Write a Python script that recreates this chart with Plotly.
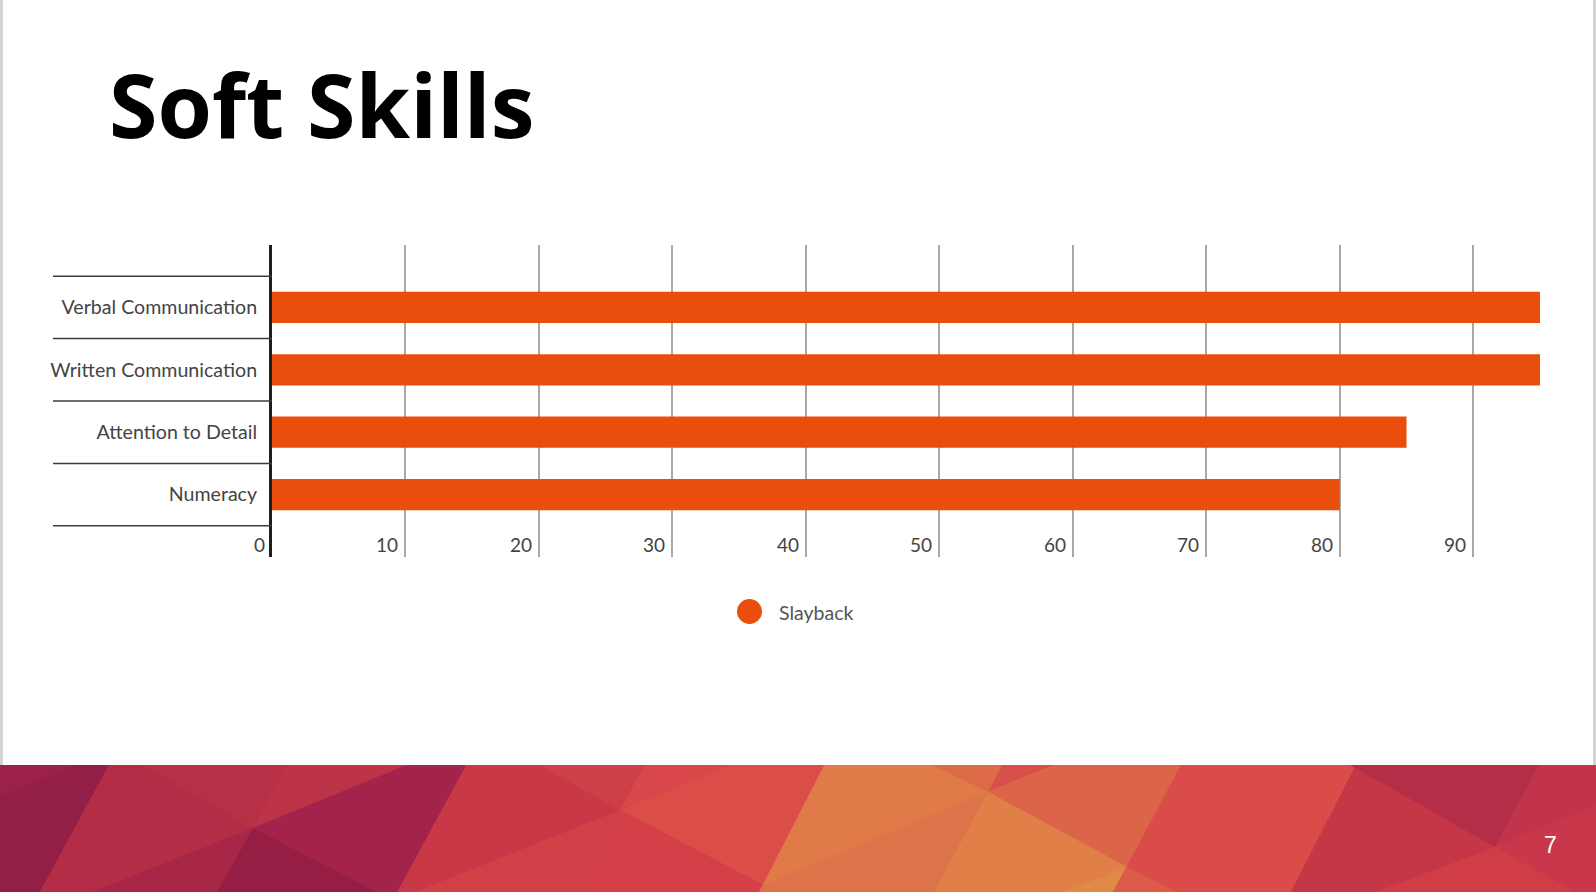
import plotly.graph_objects as go

# chart data
categories = ["Verbal Communication", "Written Communication", "Attention to Detail", "Numeracy"]
scores = [95, 95, 85, 80]
series_name = "Slayback"
x_ticks = [0, 10, 20, 30, 40, 50, 60, 70, 80, 90]
x_tick_labels = ["0", "10", "20", "30", "40", "50", "60", "70", "80", "90"]
title_text = "Soft Skills"
page_number = "7"

W, H = 1596, 892
BAR = "#ea4e0d"
FONT = "Lato"


def fx(px):
    return px / W


def fy(py):
    return 1 - py / H


# decorative footer polygons (pixel coords)
banner = [
    ("#c93847", [(0, 765), (1596, 765), (1596, 892), (0, 892)]),
    ("#931f46", [(0, 765), (109, 765), (40, 892), (0, 892)]),
    ("#9b2148", [(0, 765), (76, 765), (0, 797)]),
    ("#b22d45", [(109, 765), (466, 765), (397, 892), (40, 892)]),
    ("#b73046", [(142, 765), (287, 765), (253, 828)]),
    ("#bd3448", [(287, 765), (407, 765), (253, 828)]),
    ("#a3234a", [(253, 828), (407, 765), (466, 765), (397, 892), (377, 892)]),
    ("#a82646", [(253, 828), (92, 892), (217, 892)]),
    ("#961e44", [(253, 828), (217, 892), (377, 892)]),
    ("#cd4047", [(539, 765), (644, 765), (620, 810)]),
    ("#d9474a", [(644, 765), (728, 765), (620, 810)]),
    ("#da4d48", [(620, 810), (728, 765), (824, 765), (763, 885)]),
    ("#d53f47", [(620, 810), (763, 885), (759, 892), (580, 892)]),
    ("#cf4047", [(620, 810), (580, 892), (415, 892)]),
    ("#e07a48", [(824, 765), (1181, 765), (1113, 892), (759, 892)]),
    ("#dc7349", [(763, 885), (988, 792), (934, 892), (759, 892)]),
    ("#dd6b48", [(932, 765), (1002, 765), (988, 792)]),
    ("#d9504a", [(1002, 765), (1054, 765), (988, 792)]),
    ("#dc6449", [(988, 792), (1054, 765), (1181, 765), (1127, 867)]),
    ("#e08048", [(988, 792), (1127, 867), (1113, 892), (934, 892)]),
    ("#e08a45", [(1064, 892), (1127, 867), (1113, 892)]),
    ("#da4c4a", [(1181, 765), (1356, 765), (1291, 892), (1113, 892)]),
    ("#dc5a48", [(1127, 867), (1177, 892), (1113, 892)]),
    ("#c53646", [(1356, 765), (1596, 765), (1596, 892), (1291, 892)]),
    ("#b42e48", [(1350, 765), (1539, 765), (1495, 847)]),
    ("#c2344a", [(1539, 765), (1596, 765), (1596, 805), (1495, 847)]),
    ("#c9384a", [(1495, 847), (1596, 805), (1596, 892), (1576, 892)]),
    ("#d13d47", [(1495, 847), (1576, 892), (1376, 892)]),
]

fig = go.Figure()

fig.add_trace(go.Bar(
    x=scores, y=categories, orientation="h", name=series_name,
    marker=dict(color=BAR, line=dict(width=0)), showlegend=False,
))

shapes = []
for color, pts in banner:
    path = "M " + " L ".join("%.5f,%.5f" % (fx(x), fy(y)) for x, y in pts) + " Z"
    shapes.append(dict(type="path", path=path, xref="paper", yref="paper",
                       fillcolor=color, line=dict(width=0), layer="above"))

# slide frame edges
for xe in [1.5, 1594.5]:
    shapes.append(dict(type="line", xref="paper", yref="paper", x0=fx(xe), x1=fx(xe),
                       y0=fy(0), y1=fy(765), line=dict(color="#d4d4d4", width=3)))

# category separators left of the axis
for i in range(len(categories) + 1):
    shapes.append(dict(type="line", xref="paper", yref="y", x0=fx(53), x1=fx(272),
                       y0=i - 0.5, y1=i - 0.5, line=dict(color="#3c3c3c", width=1.5)))

# legend marker
shapes.append(dict(type="circle", xref="paper", yref="paper",
                   x0=fx(737), x1=fx(762), y0=fy(624), y1=fy(599),
                   fillcolor=BAR, line=dict(width=0)))

annotations = [
    dict(text=title_text, x=fx(107), y=fy(104), xref="paper", yref="paper",
         xanchor="left", yanchor="middle", showarrow=False,
         font=dict(family="Open Sans", size=88, color="#000000", weight=700)),
    dict(text=series_name, x=fx(777), y=fy(612), xref="paper", yref="paper",
         xanchor="left", yanchor="middle", showarrow=False,
         font=dict(family=FONT, size=19.5, color="#555555")),
    dict(text=page_number, x=fx(1550), y=fy(845), xref="paper", yref="paper",
         xanchor="center", yanchor="middle", showarrow=False,
         font=dict(family="Liberation Sans", size=23, color="#ffffff")),
]
for v, lbl in zip(x_ticks, x_tick_labels):
    annotations.append(dict(text=lbl, x=v, y=fy(544), xref="x", yref="paper",
                            xanchor="right", yanchor="middle", xshift=-5, showarrow=False,
                            font=dict(family=FONT, size=19, color="#444444")))

fig.update_layout(
    width=W, height=H,
    margin=dict(l=0, r=0, t=0, b=0),
    paper_bgcolor="white", plot_bgcolor="white",
    bargap=0.5,
    showlegend=False,
    shapes=shapes,
    annotations=annotations,
    xaxis=dict(
        domain=[fx(272), fx(1540)], range=[0, 95],
        tickvals=x_ticks, showticklabels=False, ticks="",
        showgrid=True, gridcolor="#a8a8a8", gridwidth=1.5,
        zeroline=False, showline=False, automargin=False, fixedrange=True,
    ),
    yaxis=dict(
        domain=[fy(557), fy(245)], type="category",
        categoryorder="array", categoryarray=categories,
        range=[len(categories), -1],
        showgrid=False, zeroline=False,
        showline=True, linecolor="#1e1e1e", linewidth=3,
        ticks="", ticklabelstandoff=8, automargin=False,
        tickfont=dict(family=FONT, size=19.6, color="#444444"),
        fixedrange=True,
    ),
)

# drop the default page margin so the figure sits at the window corner
fig.write_html("out.html", config={"displayModeBar": False},
               post_script="document.body.style.margin='0px';")
